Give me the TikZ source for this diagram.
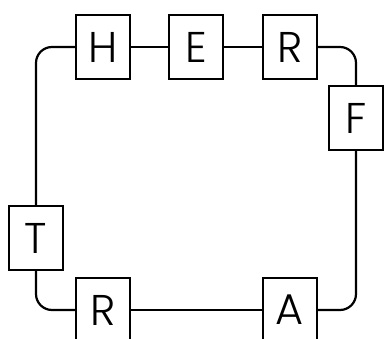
\documentclass[tikz,border=0pt]{standalone}
\usepackage{fontspec}
\setmainfont{Poppins}[UprightFont={* Light}]
\begin{document}
\begin{tikzpicture}[x=1pt,y=-1pt,
  letterbox/.style={draw=black,fill=white,line width=2.2pt,minimum width=54pt,minimum height=64pt,inner sep=0pt,font=\fontsize{43}{50}\selectfont},
  link/.style={draw=black,line width=2.2pt,rounded corners=16pt}]
\useasboundingbox (0,0) rectangle (385,339);
\clip (0,0) rectangle (385,339);
\node[letterbox] (H) at (103,47) {H};
\node[letterbox] (E) at (196,47) {E};
\node[letterbox] (R1) at (290,47) {R};
\node[letterbox] (F) at (356,118) {F};
\node[letterbox] (A) at (290,310) {A};
\node[letterbox] (R2) at (103,310) {R};
\node[letterbox] (T) at (36,238) {T};
\path[link] (H) -- (E);
\path[link] (E) -- (R1);
\path[link] (R1.east) -| (F.north);
\path[link] (F.south) |- (A.east);
\path[link] (A) -- (R2);
\path[link] (R2.west) -| (T.south);
\path[link] (T.north) |- (H.west);
\end{tikzpicture}
\end{document}
